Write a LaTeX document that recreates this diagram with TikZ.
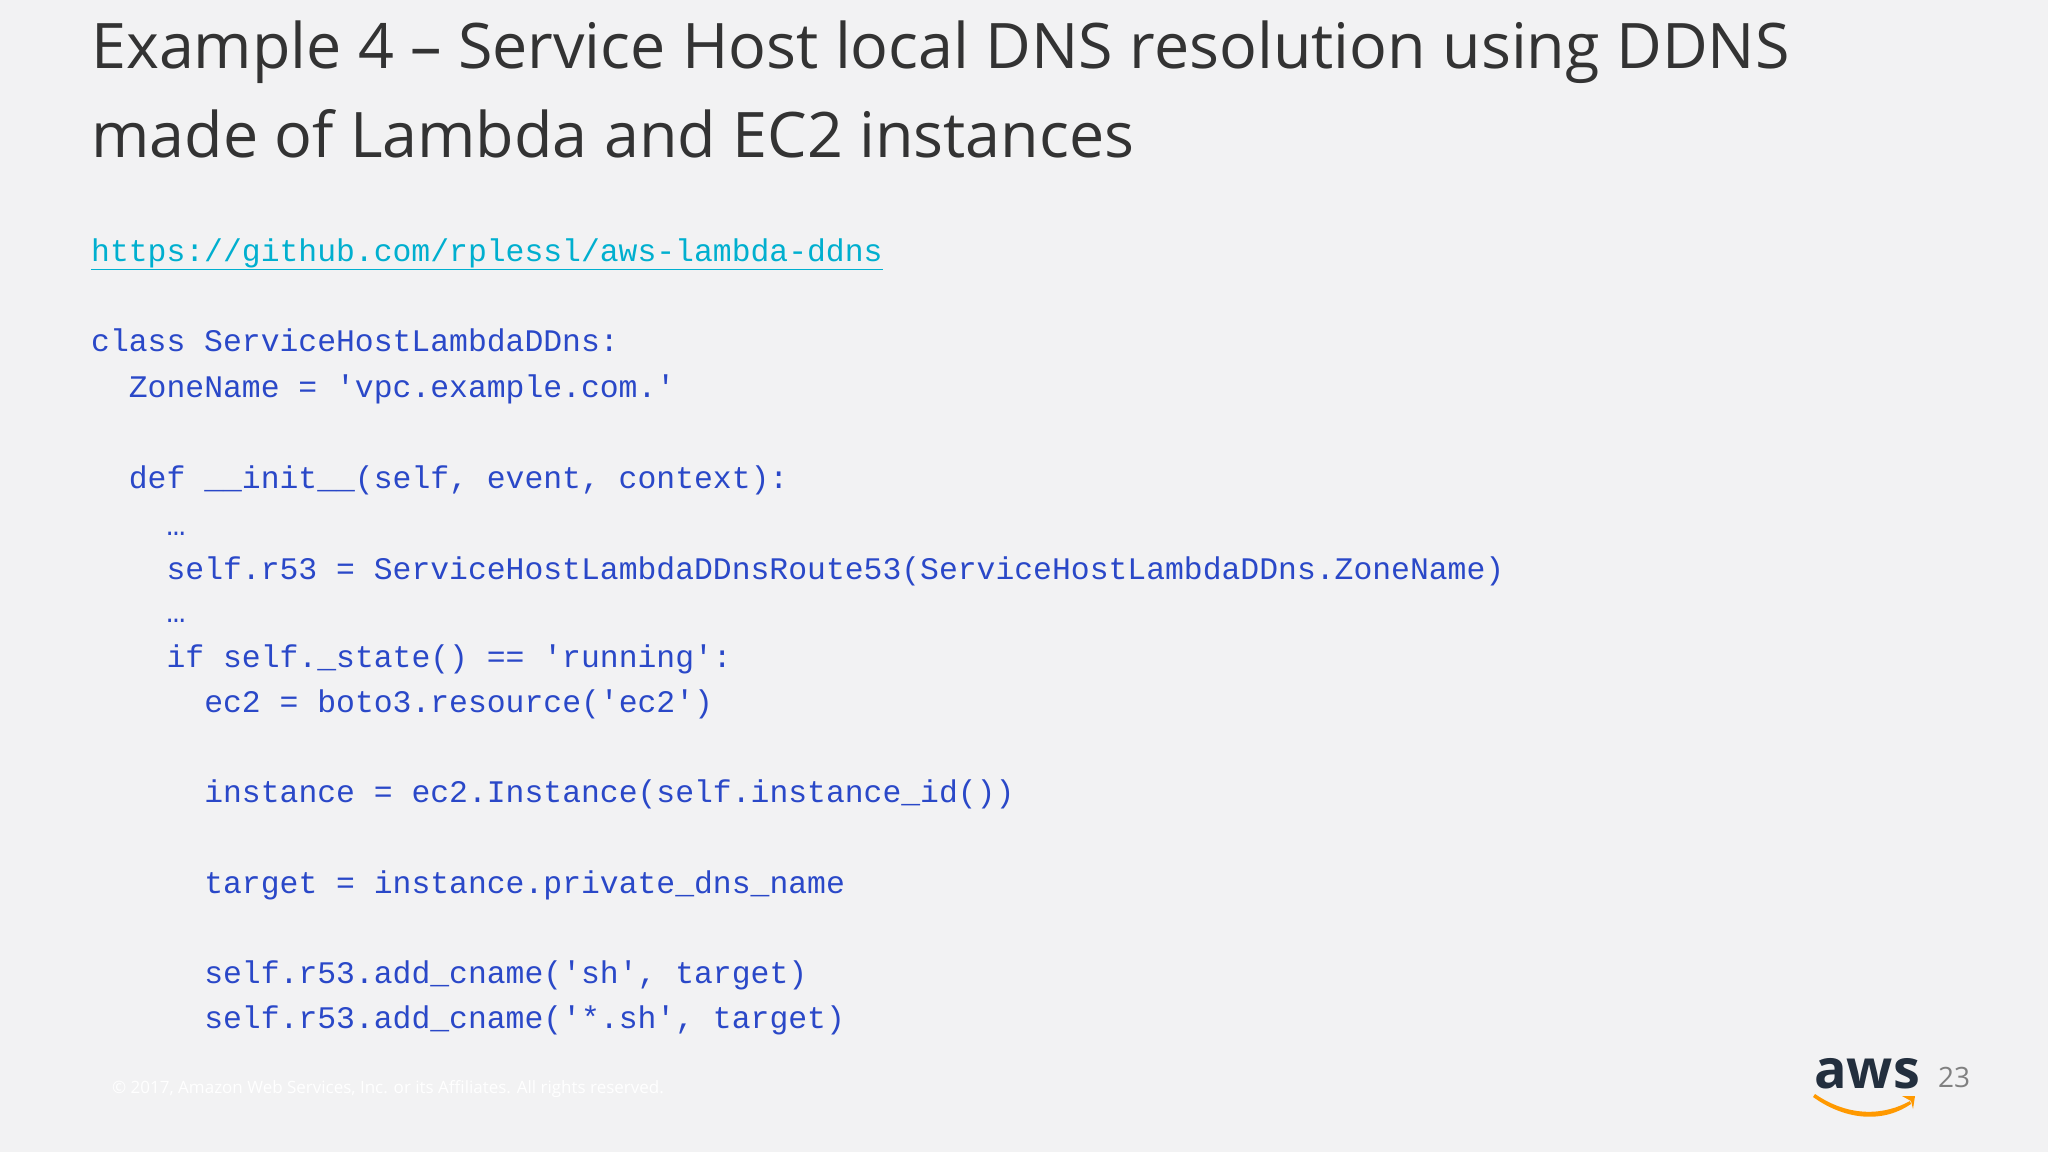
\documentclass[tikz,border=0pt]{standalone}
\usepackage{fontspec}
\setmainfont{Open Sans}
\setmonofont{Liberation Mono}
\definecolor{bg}{HTML}{F2F2F3}
\definecolor{titlec}{HTML}{333333}
\definecolor{codec}{HTML}{2A48C8}
\definecolor{linkc}{HTML}{00AFCF}
\definecolor{awsnavy}{HTML}{232F3E}
\definecolor{awsorange}{HTML}{FF9900}
\begin{document}
\begin{tikzpicture}[x=1pt,y=-1pt,
  title/.style={anchor=base west,inner sep=0,text=titlec,font=\fontsize{62.8}{70}\selectfont},
  code/.style={anchor=base west,inner sep=0,text=codec,font=\ttfamily\fontsize{31.4}{36}\selectfont}]
\fill[bg] (0,0) rectangle (2048,1152);
\useasboundingbox (0,0) rectangle (2048,1152);
\node[title] (t1) at (91,68) {Example 4 – Service Host local DNS resolution using DDNS};
\node[title] (t2) at (91,157) {made of Lambda and EC2 instances};
\node[code,text=linkc] (link) at (91,261) {\underline{https://github.com/rplessl/aws-lambda-ddns}};
\def\cw{18.85}
\node[code] (l1) at (91,351) {class ServiceHostLambdaDDns:};
\node[code] (l2) at (91+2*\cw,397) {ZoneName = 'vpc.example.com.'};
\node[code] (l3) at (91+2*\cw,488) {def \_\_init\_\_(self, event, context):};
\node[code] (l4) at (91+4*\cw,535) {…};
\node[code] (l5) at (91+4*\cw,579) {self.r53 = ServiceHostLambdaDDnsRoute53(ServiceHostLambdaDDns.ZoneName)};
\node[code] (l6) at (91+4*\cw,622) {…};
\node[code] (l7) at (91+4*\cw,667) {if self.\_state() == 'running':};
\node[code] (l8) at (91+6*\cw,712) {ec2 = boto3.resource('ec2')};
\node[code] (l9) at (91+6*\cw,802) {instance = ec2.Instance(self.instance\_id())};
\node[code] (l10) at (91+6*\cw,893) {target = instance.private\_dns\_name};
\node[code] (l11) at (91+6*\cw,983) {self.r53.add\_cname('sh', target)};
\node[code] (l12) at (91+6*\cw,1028) {self.r53.add\_cname('*.sh', target)};
\node[anchor=base west,inner sep=0,text=white,font=\fontsize{17}{20}\selectfont] (copy) at (112,1093) {© 2017, Amazon Web Services, Inc. or its Affiliates. All rights reserved.};
\node[anchor=base west,inner sep=0,text=awsnavy,font=\bfseries\fontsize{54}{54}\selectfont] (aws) at (1814,1088) {aws};
\fill[awsorange] (1815,1094) .. controls (1850,1118) and (1885,1115) .. (1910,1101) -- (1911,1104) .. controls (1885,1122) and (1848,1122) .. (1813,1097) -- cycle;
\fill[awsorange] (1902,1096) -- (1915,1096) -- (1913,1109) -- (1911,1101) -- cycle;
\node[anchor=base west,inner sep=0,text=gray,font=\fontsize{28}{30}\selectfont] (pg) at (1938,1087) {23};
\end{tikzpicture}
\end{document}
